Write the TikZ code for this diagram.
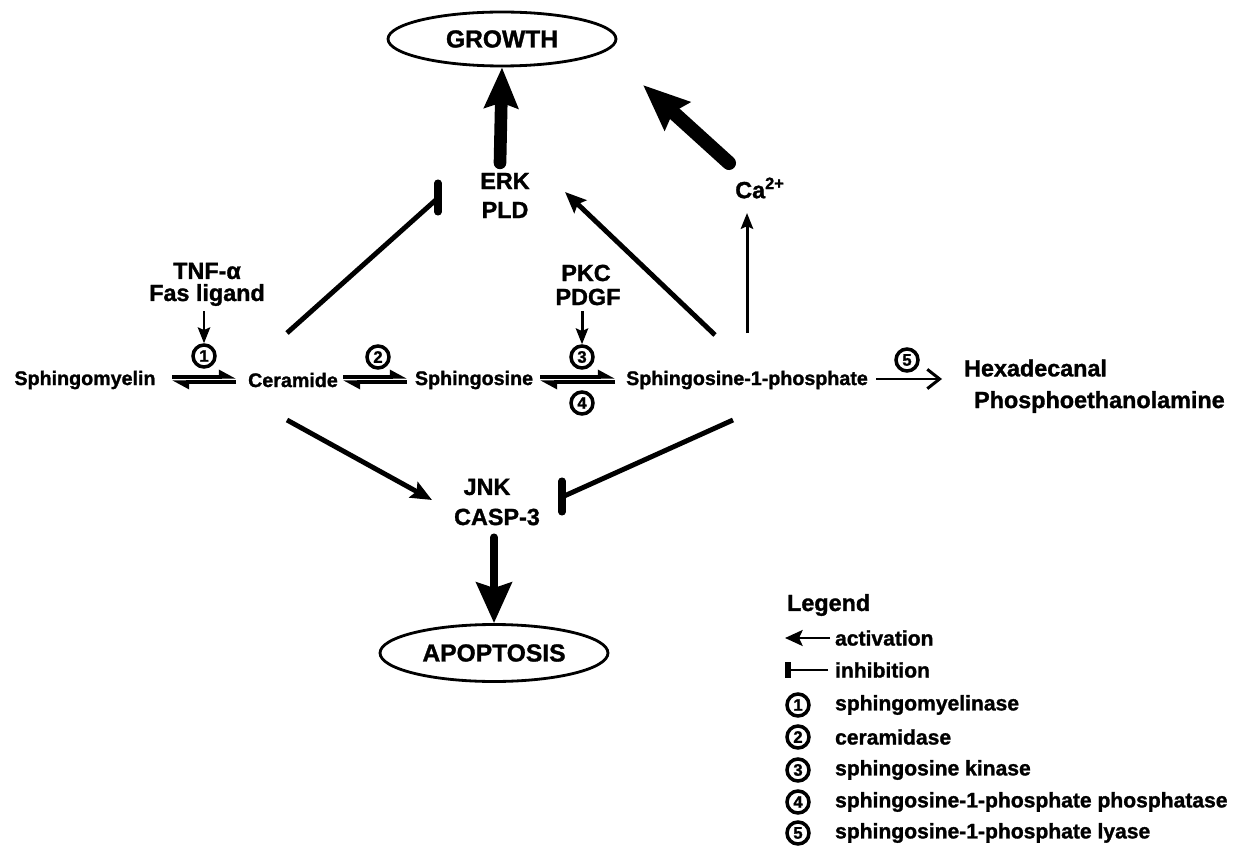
\documentclass[tikz,border=0pt]{standalone}
\usepackage{fontspec}
\setmainfont{Liberation Sans}[BoldFeatures={FakeBold=1.3}]
\usetikzlibrary{arrows.meta,shapes.geometric}
\begin{document}
\begin{tikzpicture}[x=0.02cm,y=-0.02cm,
  every node/.style={inner sep=1pt},
  lbl/.style={font=\bfseries\fontsize{11.2}{13}\selectfont},
  big/.style={font=\bfseries\fontsize{13.3}{15}\selectfont},
  legtxt/.style={font=\bfseries\fontsize{12}{14}\selectfont, anchor=west},
  num/.style={circle, draw, line width=2pt, minimum size=0.44cm, inner sep=0pt, font=\bfseries\fontsize{9.5}{10}\selectfont},
  ell/.style={ellipse, draw, line width=1.6pt, minimum width=4.56cm, minimum height=1.08cm, font=\bfseries\fontsize{14}{16}\selectfont},
  act/.style={line width=2.8pt, -{Stealth[length=12pt,width=10pt,inset=2pt]}},
  thinact/.style={line width=1.7pt, -{Stealth[length=9pt,width=7pt,inset=1.5pt]}},
  inh/.style={line width=2.8pt},
  inhbar/.style={line width=4pt, line cap=round},
  rev/.style={line width=1.8pt, -{Triangle[harpoon,length=8pt,width=8pt]}},
  fat/.style={line cap=round, -{Stealth[length=23pt,width=19pt,inset=3pt]}}
]
\useasboundingbox (0,0) rectangle (1254,851);

% ---- nodes ----
\node[ell] (growth) at (502,39) {GROWTH};
\node[ell, minimum height=1.14cm] (apop) at (494,653) {APOPTOSIS};
\node[big] (erk) at (505,181) {ERK};
\node[big] (pld) at (505,210) {PLD};
\node[big] (ca) at (760,188) {Ca\textsuperscript{2+}};
\node[big] (jnk) at (487,487) {JNK};
\node[big] (casp) at (497,517) {CASP-3};
\node[big, inner sep=0pt] (tnf) at (207,271) {TNF-α};
\node[big, inner sep=0pt] (fas) at (207,295) {Fas ligand};
\node[big] (pkc) at (586,273) {PKC};
\node[big] (pdgf) at (588,297) {PDGF};
\node[lbl] (sm) at (85,380) {Sphingomyelin};
\node[lbl] (cer) at (293,380) {Ceramide};
\node[lbl] (sph) at (474,380) {Sphingosine};
\node[lbl] (s1p) at (747,380) {Sphingosine-1-phosphate};
\node[big, anchor=west] (hex) at (962,368) {Hexadecanal};
\node[big, anchor=west] (pea) at (972,402) {Phosphoethanolamine};

\node[num] (e1) at (204,356) {1};
\node[num] (e2) at (378,357) {2};
\node[num] (e3) at (582,357) {3};
\node[num] (e4) at (582,403) {4};
\node[num] (e5) at (907,360) {5};

% ---- coordinates for connector ends ----
\coordinate (r1a) at (172,377); \coordinate (r1b) at (236,377);
\coordinate (r1c) at (236,382); \coordinate (r1d) at (172,382);
\coordinate (r2a) at (343,377); \coordinate (r2b) at (407,377);
\coordinate (r2c) at (407,382); \coordinate (r2d) at (343,382);
\coordinate (r3a) at (540,377); \coordinate (r3b) at (615,377);
\coordinate (r3c) at (615,382); \coordinate (r3d) at (540,382);

\coordinate (cerup) at (287,333);
\coordinate (cerdn) at (287,420);
\coordinate (s1pup) at (715,335);
\coordinate (s1pca) at (747,333);
\coordinate (s1pdn) at (733,420);
\coordinate (erkin) at (565,192);
\coordinate (erkinh) at (438,198);
\coordinate (jnkin) at (432,500);
\coordinate (jnkinh) at (562,497);
\coordinate (catop) at (747,213);
\coordinate (catail) at (729,163);
\coordinate (p5a) at (876,379); \coordinate (p5b) at (942,379);

% ---- reversible reactions ----
\draw[rev] (r1a) -- (r1b);
\draw[rev] (r1c) -- (r1d);
\draw[rev] (r2a) -- (r2b);
\draw[rev] (r2c) -- (r2d);
\draw[rev] (r3a) -- (r3b);
\draw[rev] (r3c) -- (r3d);
\draw[line width=1.7pt, -{Straight Barb[length=7pt,width=11pt,line width=1.7pt]}] (p5a) -- (p5b);

% ---- stimuli ----
\draw[thinact] (fas.south -| e1) ++(0,5) -- (e1.north);
\draw[thinact] (pdgf.south -| e3) ++(0,4) -- (e3.north);

% ---- activations / inhibitions ----
\draw[act] (cerdn) -- (jnkin);
\draw[act] (s1pup) -- (erkin);
\draw[thinact] (s1pca) -- (catop);
\draw[inh] (cerup) -- (erkinh);
\draw[inhbar] (438,183) -- (438,212);
\draw[inh] (s1pdn) -- (jnkinh);
\draw[inhbar] (562,481) -- (562,512);

% ---- fat arrows ----
\draw[fat, line width=7.2pt] (erk.north) ++(-5,-8) -- (growth.south);
\draw[fat, line width=8pt, -{Stealth[length=26pt,width=21pt,inset=3pt]}] (catail) -- (643,85);
\draw[fat, line width=4.5pt, -{Stealth[length=23pt,width=20pt,inset=3pt]}] (casp.south) ++(-3,10) -- (apop.north);

% ---- legend ----
\node[big, anchor=west] (leg) at (785,605) {Legend};
\coordinate (la1) at (830,638); \coordinate (la2) at (785,638);
\draw[line width=1.7pt, -{Stealth[length=10pt,width=9pt,inset=2pt]}] (la1) -- (la2);
\node[legtxt] (lact) at (833,638) {activation};
\coordinate (li1) at (828,670); \coordinate (li2) at (788,670);
\draw[line width=1.7pt] (li1) -- (li2);
\draw[line width=3pt] (788,662) -- (788,678);
\node[legtxt] (linh) at (833,670) {inhibition};
\node[num] (l1) at (798,705) {1};
\node[legtxt] (t1) at (833,705) {sphingomyelinase};
\node[num] (l2) at (798,737) {2};
\node[legtxt] (t2) at (833,737) {ceramidase};
\node[num] (l3) at (798,770) {3};
\node[legtxt] (t3) at (833,770) {sphingosine kinase};
\node[num] (l4) at (798,802) {4};
\node[legtxt] (t4) at (833,802) {sphingosine-1-phosphate phosphatase};
\node[num] (l5) at (798,833) {5};
\node[legtxt] (t5) at (833,833) {sphingosine-1-phosphate lyase};
\end{tikzpicture}
\end{document}
